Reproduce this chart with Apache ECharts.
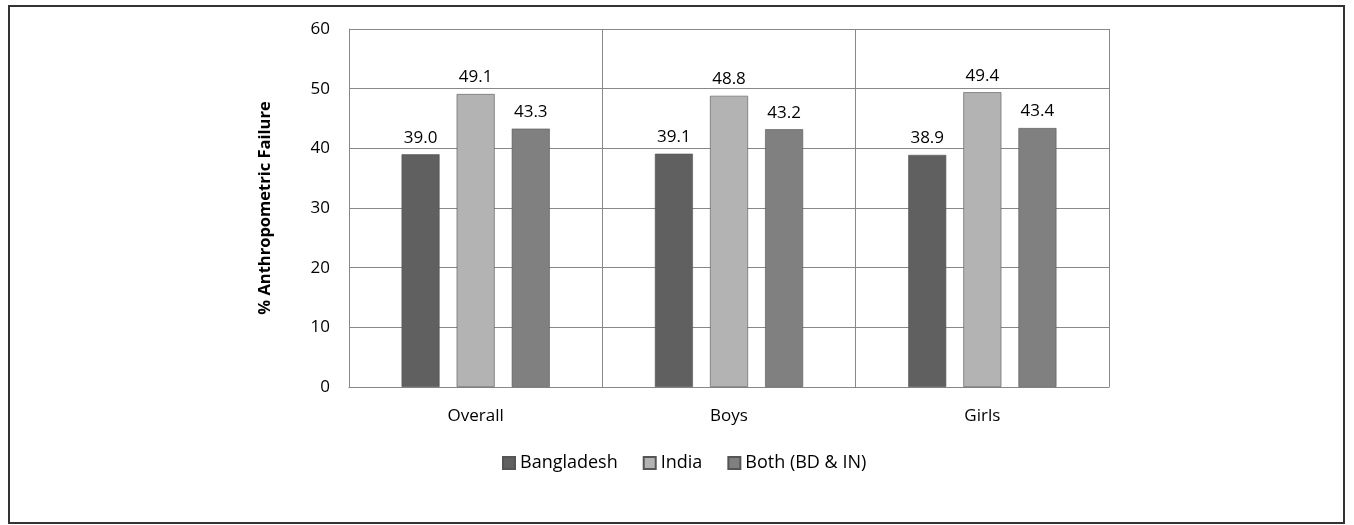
<!DOCTYPE html>
<html>
<head>
<meta charset="utf-8">
<script src="https://cdn.jsdelivr.net/npm/echarts@6/dist/echarts.min.js"></script>
<style>
  html, body { margin: 0; padding: 0; background: #fff; }
  #chart { width: 1354px; height: 525px; }
</style>
</head>
<body>
<div id="chart"></div>
<script>
// categories and values
var categories = ["Overall", "Boys", "Girls"];
var bangladesh = [39.0, 39.1, 38.9];
var india = [49.1, 48.8, 49.4];
var both = [43.3, 43.2, 43.4];
var yTicks = { min: 0, max: 60, interval: 10 };

var font = "Open Sans";

function barSeries(name, data, color) {
  return {
    name: name,
    type: "bar",
    data: data,
    barWidth: 38,
    barGap: "45%",
    itemStyle: { color: color, borderColor: "#555", borderWidth: 0.6 },
    label: {
      show: true,
      position: "top",
      distance: 8,
      color: "#000",
      fontFamily: font,
      fontSize: 17,
      formatter: function (p) { return p.value.toFixed(1); }
    }
  };
}

var myChart = echarts.init(document.getElementById("chart"));
var option = {
  animation: false,
  backgroundColor: "#fff",
  graphic: [{
    type: "rect",
    shape: { x: 9, y: 6, width: 1335, height: 517 },
    style: { fill: "none", stroke: "#333", lineWidth: 2 },
    silent: true
  }],
  grid: { left: 349, right: 245, top: 29, bottom: 138 },
  legend: {
    bottom: 48,
    left: 497,
    itemWidth: 12,
    itemHeight: 12,
    itemGap: 25,
    icon: "rect",
    textStyle: { color: "#000", fontFamily: font, fontSize: 18 },
    data: ["Bangladesh", "India", "Both (BD & IN)"]
  },
  xAxis: {
    type: "category",
    data: categories,
    axisLine: { lineStyle: { color: "#888", width: 1 } },
    axisTick: { show: false },
    splitLine: { show: true, lineStyle: { color: "#888", width: 1 } },
    axisLabel: { color: "#000", fontFamily: font, fontSize: 17, margin: 21 }
  },
  yAxis: {
    type: "value",
    min: yTicks.min,
    max: yTicks.max,
    interval: yTicks.interval,
    name: "% Anthropometric Failure",
    nameLocation: "middle",
    nameGap: 75,
    nameTextStyle: { color: "#000", fontFamily: font, fontSize: 16.5, fontWeight: "bold" },
    axisLine: { show: true, lineStyle: { color: "#888" } },
    axisTick: { show: false },
    splitLine: { show: true, lineStyle: { color: "#888", width: 1 } },
    axisLabel: { color: "#000", fontFamily: font, fontSize: 17, margin: 19 }
  },
  series: [
    barSeries("Bangladesh", bangladesh, "#606060"),
    barSeries("India", india, "#b3b3b3"),
    barSeries("Both (BD & IN)", both, "#808080")
  ]
};
myChart.setOption(option);
</script>
</body>
</html>
